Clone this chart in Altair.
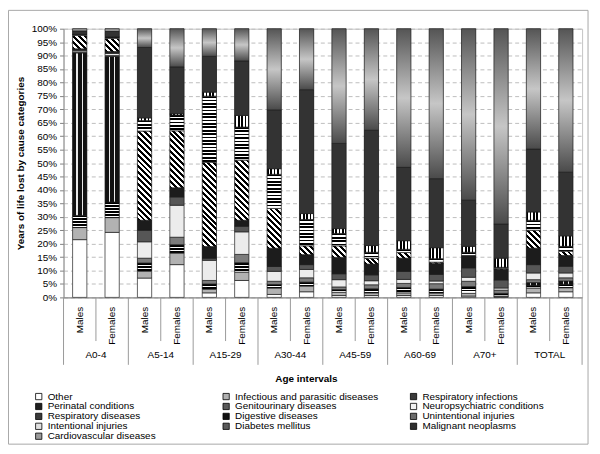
import math
import altair as alt

# ---------------- data ----------------
groups = ["A0-4", "A5-14", "A15-29", "A30-44", "A45-59", "A60-69", "A70+", "TOTAL"]
sexes = ["Males", "Females"]
causes = ["Other", "Infectious and parasitic diseases", "Respiratory infections",
          "Perinatal conditions", "Genitourinary diseases", "Neuropsychiatric conditions",
          "Respiratory diseases", "Digestive diseases", "Unintentional injuries",
          "Intentional injuries", "Diabetes mellitus", "Malignant neoplasms",
          "Cardiovascular diseases"]

# values (%), bar order: A0-4 M, A0-4 F, A5-14 M, A5-14 F, ... TOTAL M, TOTAL F
other       = [21.5, 24.2, 7.2, 12.2, 1.7, 6.3, 1.1, 2.1, 0.7, 0.7, 0.7, 0.7, 0.5, 0.2, 1.7, 2.1]
infectious  = [4.5, 5.5, 2.5, 4.3, 1.3, 3.1, 2.4, 2.1, 1.2, 1.0, 1.0, 0.9, 1.0, 0.3, 1.8, 1.5]
resp_inf    = [4.5, 5.8, 3.1, 3.1, 2.0, 3.5, 1.3, 1.5, 1.0, 1.5, 2.0, 1.5, 2.5, 1.0, 1.0, 1.3]
perinatal   = [60.5, 54.2, 0, 0, 0, 0, 0, 0, 0, 0, 0, 0, 0, 0, 1.0, 1.2]
genito      = [0.3, 0.3, 1.8, 2.8, 1.3, 3.1, 1.2, 1.6, 1.0, 1.5, 1.5, 2.0, 2.0, 1.2, 1.1, 1.2]
neuro       = [0.5, 0.8, 6.1, 11.9, 7.5, 8.4, 3.7, 3.1, 2.7, 1.5, 1.5, 1.0, 1.5, 0.8, 2.5, 1.8]
resp_dis    = [0.4, 0.4, 4.3, 3.1, 0.8, 2.1, 1.8, 1.8, 2.2, 2.2, 3.0, 2.5, 3.5, 3.0, 3.1, 2.5]
digestive   = [0.3, 0.3, 3.7, 3.4, 4.3, 2.2, 6.8, 3.7, 6.1, 4.0, 4.9, 4.0, 4.5, 4.0, 6.1, 4.0]
unint       = [5.0, 4.9, 33.2, 21.2, 31.4, 22.4, 14.8, 3.3, 4.3, 2.2, 2.1, 0.5, 0.1, 0.3, 6.7, 1.6]
intent      = [0.3, 0.5, 3.9, 5.9, 24.6, 12.3, 12.7, 9.8, 4.6, 2.2, 1.2, 1.3, 1.2, 0.4, 3.7, 1.8]
diabetes    = [0.1, 0.1, 1.0, 0.5, 1.5, 4.3, 2.1, 2.2, 1.8, 2.5, 3.2, 4.1, 2.2, 3.4, 3.1, 3.9]
malignant   = [1.2, 2.0, 26.2, 17.4, 13.3, 20.3, 21.9, 46.1, 31.7, 42.9, 27.3, 25.7, 17.2, 12.7, 23.4, 23.7]
cardio      = [0.9, 1.0, 7.0, 14.2, 10.3, 12.0, 30.2, 22.7, 42.7, 37.8, 51.6, 55.8, 63.8, 72.7, 44.8, 53.4]

series = [other, infectious, resp_inf, perinatal, genito, neuro, resp_dis, digestive,
          unint, intent, diabetes, malignant, cardio]

# legend swatch colours (solid approximations of the patterns)
legend_colors = ["#ffffff", "#b0b0b0", "#3a3a3a", "#202020", "#5a5a5a", "#f2f2f2",
                 "#3a3a3a", "#111111", "#6a6a6a", "#e0e0e0", "#5a5a5a", "#2e2e2e", "#9a9a9a"]

y_ticks = [i / 20 for i in range(21)]

# ---------------- layout constants ----------------
W, H = 523, 271
N_BARS = len(groups) * len(sexes)
STEP = W / N_BARS
PAD_IN = 0.56
BAR_W = STEP * (1 - PAD_IN)


def stripes(n, dark, light, frac):
    stops = []
    n = max(n, 1.0)
    k = int(math.ceil(n))
    for i in range(k):
        s = min(i / n, 1.0)
        m = min((i + frac) / n, 1.0)
        e = min((i + 1) / n, 1.0)
        stops += [{"offset": s, "color": dark}, {"offset": m, "color": dark},
                  {"offset": m, "color": light}, {"offset": e, "color": light}]
    return stops


def hstripes(h, period=3.4, frac=0.5, dark="#000000", light="#ffffff"):
    return {"gradient": "linear", "x1": 0, "y1": 0, "x2": 0, "y2": 1,
            "stops": stripes(max(h, 0.5) / period, dark, light, frac)}


def vstripes(period=3.4, frac=0.5):
    return {"gradient": "linear", "x1": 0, "y1": 0, "x2": 1, "y2": 0,
            "stops": stripes(BAR_W / period, "#000000", "#ffffff", frac)}


def diag(h, period=4.2, frac=0.5):
    h = max(h, 0.5)
    s = (BAR_W + h) / (BAR_W ** 2 + h ** 2)
    L = (BAR_W + h) / math.sqrt(2)
    return {"gradient": "linear", "x1": 0, "y1": 1, "x2": s * BAR_W, "y2": 1 - s * h,
            "stops": stripes(L / period, "#000000", "#ffffff", frac)}


def perinatal_fill():
    d, l = "#111111", "#e8e8e8"
    return {"gradient": "linear", "x1": 0, "y1": 0, "x2": 1, "y2": 0,
            "stops": [{"offset": 0, "color": d}, {"offset": 0.27, "color": d},
                      {"offset": 0.27, "color": l}, {"offset": 0.35, "color": l},
                      {"offset": 0.35, "color": d}, {"offset": 0.65, "color": d},
                      {"offset": 0.65, "color": l}, {"offset": 0.73, "color": l},
                      {"offset": 0.73, "color": d}, {"offset": 1, "color": d}]}


cardio_fill = {"gradient": "linear", "x1": 0, "y1": 0, "x2": 0, "y2": 1,
               "stops": [{"offset": 0, "color": "#555555"},
                         {"offset": 0.5, "color": "#c6c6c6"},
                         {"offset": 1, "color": "#4a4a4a"}]}


def fill_for(ci, h):
    name = causes[ci]
    if name == "Other":
        return "#ffffff"
    if name == "Infectious and parasitic diseases":
        return "#b2b2b2"
    if name == "Respiratory infections":
        return hstripes(h, period=3.0, frac=0.62)
    if name == "Perinatal conditions":
        return perinatal_fill()
    if name == "Genitourinary diseases":
        return "#7c7c7c"
    if name == "Neuropsychiatric conditions":
        return "#ececec"
    if name == "Respiratory diseases":
        return "#565656"
    if name == "Digestive diseases":
        return "#1c1c1c"
    if name == "Unintentional injuries":
        return diag(h)
    if name == "Intentional injuries":
        return hstripes(h, period=3.4, frac=0.5)
    if name == "Diabetes mellitus":
        return vstripes()
    if name == "Malignant neoplasms":
        return "#333333"
    return dict(cardio_fill)


bar_ids = []
rows = []
for gi, g in enumerate(groups):
    for si, sx in enumerate(sexes):
        bi = gi * 2 + si
        bid = g + "|" + sx
        bar_ids.append(bid)
        total = sum(s[bi] for s in series)
        for ci, s in enumerate(series):
            v = s[bi]
            if v <= 0:
                continue
            h = v / total * H
            rows.append({"bar": bid, "group": g, "sex": sx, "cause": causes[ci],
                         "order": ci, "value": v, "fillv": fill_for(ci, h)})

sep_rows = [{"bar": b, "kind": ("group" if b.endswith("Females") else "sex")} for b in bar_ids]
grp_rows = [{"bar": g + "|Males", "group": g} for g in groups]

# ---------------- chart ----------------
xscale = alt.Scale(domain=bar_ids, paddingInner=PAD_IN, paddingOuter=PAD_IN / 2)
yscale = alt.Scale(domain=[0, 1], nice=False)

x_axis = alt.Axis(title=None, labelExpr="split(datum.label, '|')[1]",
                  labelAngle=-90, labelAlign="right", labelBaseline="middle",
                  labelPadding=9, ticks=False, grid=False, labelOverlap=False,
                  domainColor="#808080", labelFontSize=10, labelColor="#000000")
y_axis = alt.Axis(values=y_ticks, format=".0%", labelOverlap=False,
                  title="Years of life lost by cause categories",
                  titleFontSize=10, titleFontWeight="bold", titlePadding=6,
                  titleColor="#000000",
                  labelFontSize=10, labelColor="#000000", labelPadding=3,
                  tickSize=4, tickColor="#808080", domainColor="#909090",
                  grid=True, gridDash=[4, 3], gridColor="#bdbdbd")


def xe():
    return alt.X("bar:N", sort=bar_ids, scale=xscale, axis=x_axis)


def ye():
    return alt.Y("y0:Q", scale=yscale, axis=y_axis)


base = alt.Chart(alt.Data(values=rows)).transform_stack(
    stack="value", as_=["y0", "y1"], groupby=["bar"],
    sort=[alt.SortField("order", order="ascending")], offset="normalize")

legend_layer = base.mark_bar().encode(
    x=xe(), y=ye(), y2="y1:Q",
    color=alt.Color("cause:N", scale=alt.Scale(domain=causes, range=legend_colors),
                    legend=alt.Legend(title=None, orient="none", legendX=-30, legendY=366,
                                      columns=3, gridAlign="all", columnPadding=30,
                                      rowPadding=0, symbolType="square", symbolSize=40,
                                      symbolStrokeColor="#000000", symbolStrokeWidth=0.8,
                                      labelFontSize=10, labelColor="#000000", labelLimit=300,
                                      padding=0, direction="horizontal")))

pattern_layer = base.mark_bar(stroke="#1e1e1e", strokeWidth=0.7).encode(
    x=xe(), y=ye(), y2="y1:Q",
    fill=alt.Fill("fillv:N", scale=None, legend=None))

sep_group = alt.Chart(alt.Data(values=[r for r in sep_rows if r["kind"] == "group"])).mark_rule(
    xOffset=STEP / 2, color="#9a9a9a", strokeWidth=1).encode(
    x=xe(), y=alt.value(H), y2=alt.value(H + 68))

sep_sex = alt.Chart(alt.Data(values=[r for r in sep_rows if r["kind"] == "sex"])).mark_rule(
    xOffset=STEP / 2, color="#9a9a9a", strokeWidth=1).encode(
    x=xe(), y=alt.value(H), y2=alt.value(H + 44))

sep_left = alt.Chart(alt.Data(values=[{"k": 1}])).mark_rule(
    color="#9a9a9a", strokeWidth=1).encode(
    x=alt.value(0), y=alt.value(H), y2=alt.value(H + 68))

group_text = alt.Chart(alt.Data(values=grp_rows)).mark_text(
    xOffset=STEP / 2, fontSize=10, baseline="middle", color="#000000").encode(
    x=xe(), y=alt.value(H + 58), text="group:N")

xtitle = alt.Chart(alt.Data(values=[{"t": "Age intervals"}])).mark_text(
    fontSize=10, fontWeight="bold", baseline="middle", color="#000000").encode(
    x=alt.value(245), y=alt.value(H + 82), text="t:N")

frame = alt.Chart(alt.Data(values=[{"k": 1}])).mark_rect(
    fillOpacity=0, stroke="#a8a8a8", strokeWidth=1).encode(
    x=alt.value(-55.5), x2=alt.value(529), y=alt.value(-18.5), y2=alt.value(419))

chart = alt.layer(
    legend_layer, pattern_layer, sep_group, sep_sex, sep_left, group_text, xtitle, frame
).properties(
    width=W, height=H,
    autosize=alt.AutoSizeParams(type="none"),
    padding={"left": 56, "top": 19, "right": 10, "bottom": 150},
).configure(font="Liberation Sans").configure_view(stroke="#c4c4c4")

chart.save("out.html", embed_options={"renderer": "svg", "actions": False})
